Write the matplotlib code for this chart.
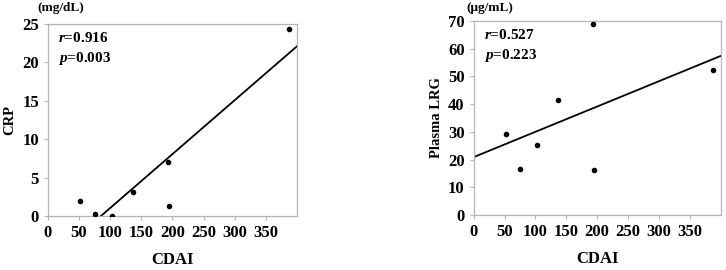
import numpy as np
import matplotlib
matplotlib.use("Agg")
import matplotlib.pyplot as plt

cdai = [52, 75, 103, 136, 193, 195, 388]
crp = [2.05, 0.3, 0.1, 3.2, 7.1, 1.35, 24.4]
lrg = [29.2, 16.6, 25.3, 41.6, 68.9, 16.3, 52.5]

x_ticks = [0, 50, 100, 150, 200, 250, 300, 350]
crp_ticks = [0, 5, 10, 15, 20, 25]
lrg_ticks = [0, 10, 20, 30, 40, 50, 60, 70]

plt.rcParams['font.family'] = ['Liberation Serif', 'DejaVu Serif']
plt.rcParams['font.weight'] = 'bold'
plt.rcParams['mathtext.fontset'] = 'custom'
plt.rcParams['mathtext.it'] = 'Liberation Serif:italic:bold'

fig = plt.figure(figsize=(7.26, 2.7), dpi=100)
ax1 = fig.add_axes([0.066, 0.199, 0.343, 0.712])
ax2 = fig.add_axes([0.6525, 0.204, 0.340, 0.718])


def draw(ax, x, y, yticks, ylabel, unit, unit_x, unit_y, r_txt, p_txt):
    x = np.array(x)
    y = np.array(y)
    ax.scatter(x, y, s=9, color='black', zorder=3)
    # least squares line
    slope, icpt = np.polyfit(x, y, 1)
    xs = np.array([0, 400])
    ax.plot(xs, slope * xs + icpt, color='black', lw=1.3, zorder=2)
    ax.set_xlim(0, 400)
    ax.set_ylim(yticks[0], yticks[-1])
    ax.set_xticks(x_ticks)
    ax.set_yticks(yticks)
    for s in ax.spines.values():
        s.set_color('#b5b5b5')
        s.set_linewidth(0.9)
    ax.tick_params(colors='#b5b5b5', length=3, width=0.8, labelcolor='black',
                   labelsize=12, pad=3.5)
    for lab in ax.get_xticklabels() + ax.get_yticklabels():
        lab.set_fontweight('bold')
    ax.set_xlabel('CDAI', fontsize=12, fontweight='bold', labelpad=8)
    ax.set_ylabel(ylabel, fontsize=10.5, fontweight='bold', labelpad=4)
    ax.text(unit_x, unit_y, unit, transform=ax.transAxes, fontsize=9.5,
            fontweight='bold', ha='center', va='bottom')
    ax.text(0.04, 0.965, r'$\mathit{r}$' + r_txt, transform=ax.transAxes,
            fontsize=11, fontweight='bold', va='top')
    ax.text(0.04, 0.865, r'$\mathit{p}$' + p_txt, transform=ax.transAxes,
            fontsize=11, fontweight='bold', va='top')


draw(ax1, cdai, crp, crp_ticks, 'CRP', '(mg/dL)', 0.052, 1.05,
     '=0.916', '=0.003')
draw(ax2, cdai, lrg, lrg_ticks, 'Plasma LRG', '(μg/mL)', 0.065, 1.035,
     '=0.527', '=0.223')

fig.savefig('out.png', dpi=100)
